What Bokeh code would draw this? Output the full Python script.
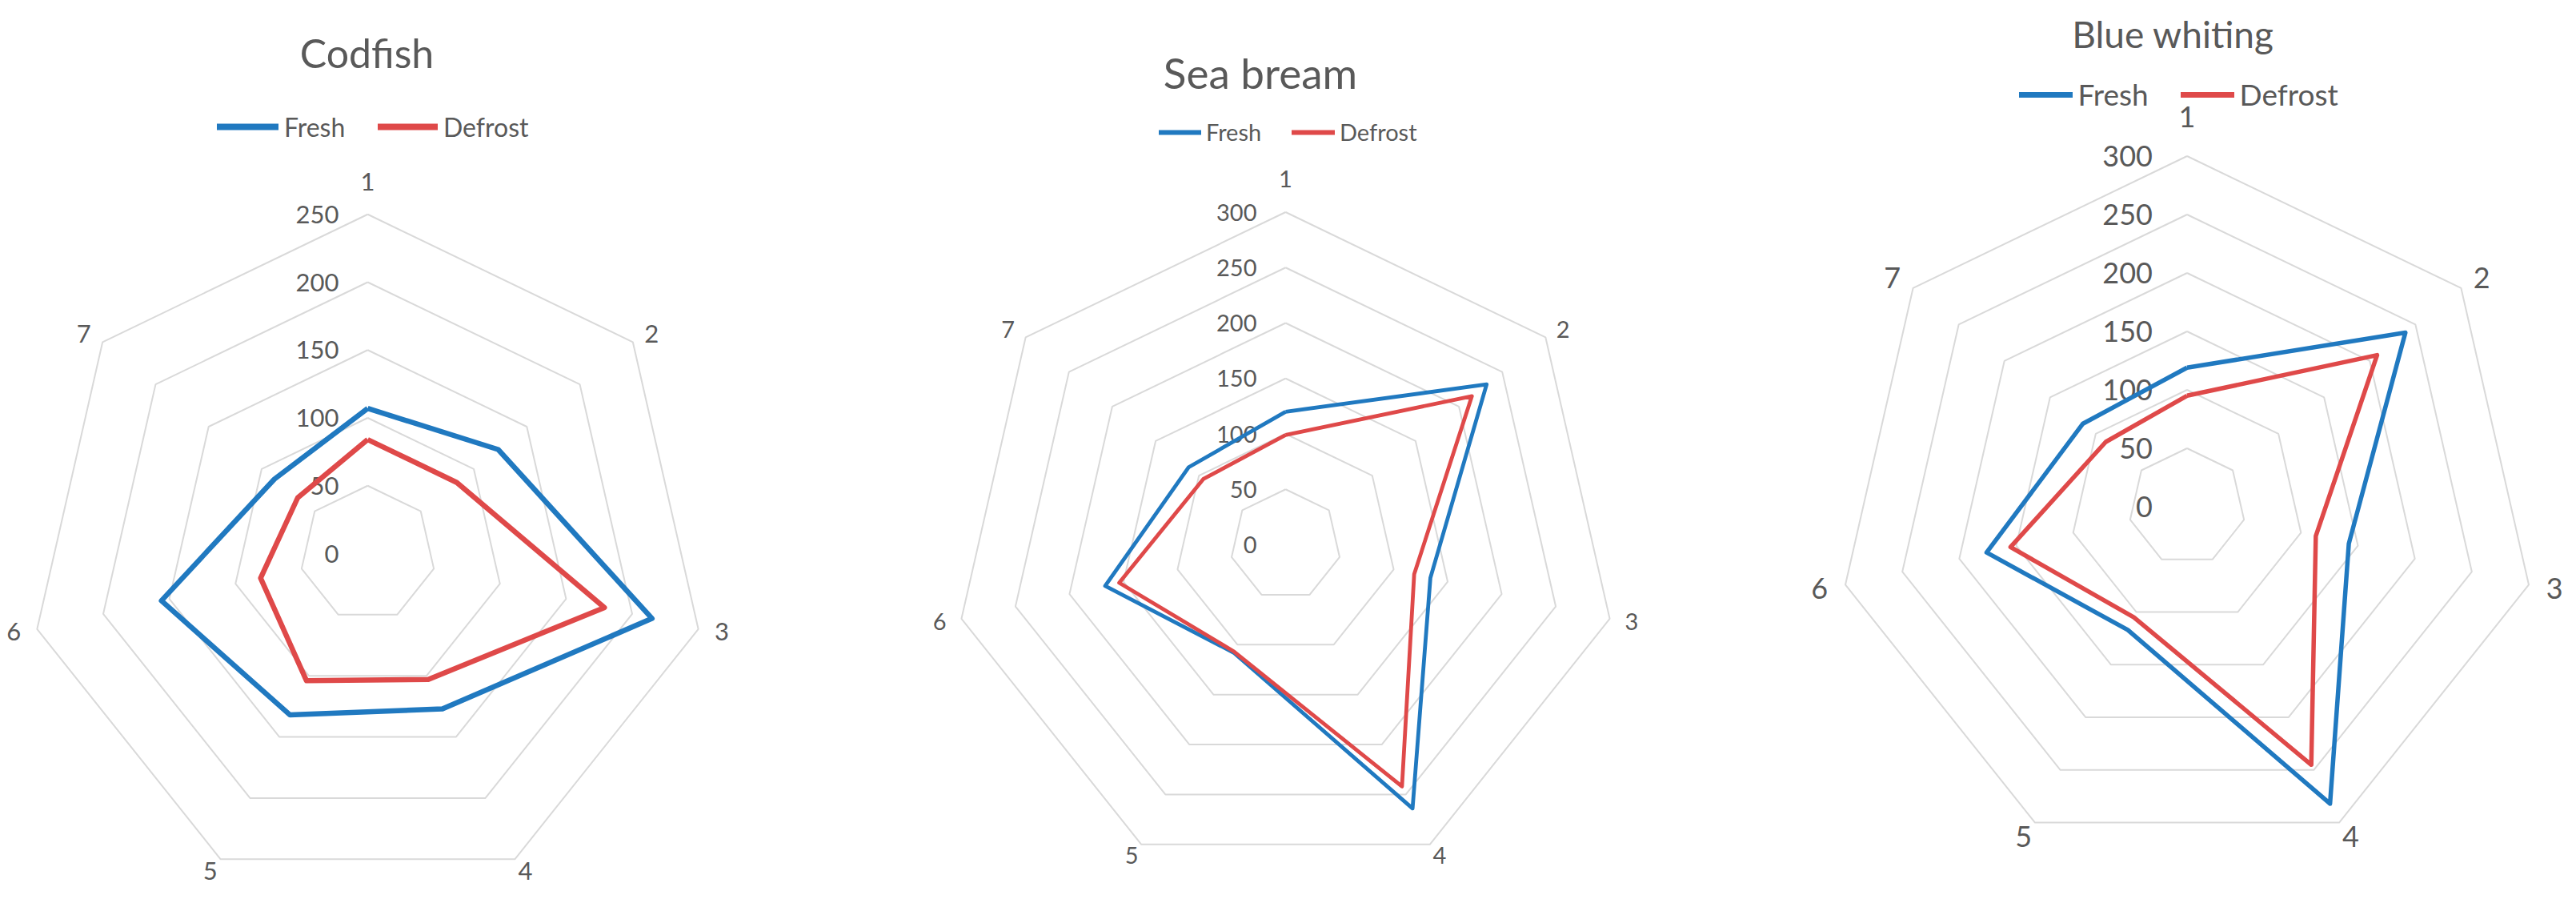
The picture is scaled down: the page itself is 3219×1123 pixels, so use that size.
import numpy as np
from bokeh.plotting import figure
from bokeh.layouts import row
from bokeh.models import Range1d, Label, Legend, LegendItem, ColumnDataSource
from bokeh.embed import file_html
from bokeh.resources import INLINE
from bokeh.core.properties import value

# ---------------- data ----------------
categories = ["1", "2", "3", "4", "5", "6", "7"]
series_names = ["Fresh", "Defrost"]
titles = ["Codfish", "Sea bream", "Blue whiting"]

codfish_fresh = [107, 123, 215, 127, 132, 156, 88]
codfish_defrost = [84, 84, 179, 103, 104, 81, 66]
seabream_fresh = [120, 232, 134, 264, 108, 167, 112]
seabream_defrost = [99, 215, 119, 242, 107, 154, 95]
bluewhiting_fresh = [119, 239, 142, 282, 117, 176, 114]
bluewhiting_defrost = [95, 208, 113, 245, 105, 155, 89]

codfish_ticks = [0, 50, 100, 150, 200, 250]
seabream_ticks = [0, 50, 100, 150, 200, 250, 300]
bluewhiting_ticks = [0, 50, 100, 150, 200, 250, 300]

# ---------------- style ----------------
FONT = "Lato"
TEXT = "#595959"
BLUE = "#2079C0"
RED = "#DF4949"
GRID = "#D9D9D9"
H = 1107
TOP = 8

panels = [
    dict(title=titles[0], fresh=codfish_fresh, defrost=codfish_defrost, ticks=codfish_ticks,
         left=8, width=1062, cx=467, cy=699, k=1.695, lw=6.5,
         tick_fs=31, cat_fs=31, tick_dx=36, gx=30, gy=16, top_extra=25,
         title_fs=50, title_x=466, title_base=73,
         leg_y=166, leg_fs=32, leg_lw=8, leg_items=[(279, 356), (480, 555)], leg_standoff=7),
    dict(title=titles[1], fresh=seabream_fresh, defrost=seabream_defrost, ticks=seabream_ticks,
         left=1070, width=1070, cx=1614, cy=688, k=1.385, lw=4.8,
         tick_fs=29, cat_fs=29, tick_dx=36, gx=28, gy=15, top_extra=27,
         title_fs=53, title_x=1582.5, title_base=98,
         leg_y=172.5, leg_fs=29, leg_lw=6, leg_items=[(1456, 1509), (1622, 1676)], leg_standoff=6),
    dict(title=titles[2], fresh=bluewhiting_fresh, defrost=bluewhiting_defrost, ticks=bluewhiting_ticks,
         left=2140, width=1071, cx=2740.5, cy=640.5, k=1.46, lw=5.5,
         tick_fs=36, cat_fs=36, tick_dx=43, gx=33, gy=19, top_extra=30,
         title_fs=46, title_x=2723, title_base=50,
         leg_y=128, leg_fs=37, leg_lw=7, leg_items=[(2530.5, 2597.5), (2732.5, 2799.5)], leg_standoff=7),
]

n = len(categories)
theta = 2 * np.pi * np.arange(n) / n
sin_t, cos_t = np.sin(theta), np.cos(theta)


def closed(vals):
    v = np.asarray(vals, dtype=float)
    xs = list(v * sin_t) + [v[0] * sin_t[0]]
    ys = list(v * cos_t) + [v[0] * cos_t[0]]
    return xs, ys


figs = []
for P in panels:
    k = P["k"]
    pcx = P["cx"] - P["left"]
    pcy = P["cy"] - TOP
    W = P["width"]
    p = figure(width=W, height=H, output_backend="svg", toolbar_location=None,
               x_axis_location=None, y_axis_location=None,
               x_range=Range1d(-pcx / k, (W - pcx) / k),
               y_range=Range1d(-(H - pcy) / k, pcy / k),
               min_border=0, title=None)
    p.outline_line_color = None
    p.background_fill_color = "white"
    p.border_fill_color = "white"
    p.grid.visible = False
    p.xgrid.grid_line_color = None
    p.ygrid.grid_line_color = None

    # rings
    rings = [t for t in P["ticks"] if t > 0]
    rx, ry = [], []
    for t in rings:
        xs, ys = closed([t] * n)
        rx.append(xs)
        ry.append(ys)
    p.multi_line(rx, ry, line_color=GRID, line_width=2)

    # radial tick labels
    tsrc = ColumnDataSource(dict(x=[-P["tick_dx"] / k] * len(P["ticks"]),
                                 y=P["ticks"], t=[str(t) for t in P["ticks"]]))
    p.text(x="x", y="y", text="t", source=tsrc, text_align="right", text_baseline="middle",
           text_font=value(FONT), text_font_size=value(f'{P["tick_fs"]}px'), text_color=TEXT)

    # category labels
    rmax = max(P["ticks"])
    cxl = (rmax + P["gx"] / k) * sin_t
    cyl = (rmax + P["gy"] / k) * cos_t + (P["top_extra"] / k) * np.clip(cos_t, 0, None) ** 8
    csrc = ColumnDataSource(dict(x=cxl, y=cyl, t=categories))
    p.text(x="x", y="y", text="t", source=csrc, text_align="center", text_baseline="middle",
           text_font=value(FONT), text_font_size=value(f'{P["cat_fs"]}px'), text_color=TEXT)

    # series
    for vals, col in [(P["fresh"], BLUE), (P["defrost"], RED)]:
        xs, ys = closed(vals)
        p.line(xs, ys, line_color=col, line_width=P["lw"], line_join="round")

    # title
    p.add_layout(Label(x=P["title_x"] - P["left"], y=H - (P["title_base"] - TOP),
                       x_units="screen", y_units="screen", text=P["title"],
                       text_align="center", text_baseline="alphabetic",
                       text_font=FONT, text_font_size=f'{P["title_fs"]}px', text_color=TEXT))

    # legend (one Legend per item, positioned like the original); proxy lines lie outside the view
    far = 1e6
    for name, col, (x0, x1) in zip(series_names, [BLUE, RED], P["leg_items"]):
        proxy = p.line(x=[far, far + 1], y=[far, far], line_color=col,
                       line_width=P["leg_lw"], line_cap="round")
        leg = Legend(items=[LegendItem(label=name, renderers=[proxy])],
                     location=(x0 - P["left"], H - (P["leg_y"] - TOP) - 20),
                     orientation="horizontal", glyph_width=int(round(x1 - x0)), glyph_height=40,
                     label_height=40, label_standoff=P["leg_standoff"], padding=0, margin=0,
                     spacing=0, border_line_color=None, background_fill_alpha=0,
                     label_text_font=FONT, label_text_font_size=f'{P["leg_fs"]}px',
                     label_text_color=TEXT)
        p.add_layout(leg)
    figs.append(p)

layout = row(*figs, spacing=0)
open("out.html", "w").write(file_html(layout, INLINE))
